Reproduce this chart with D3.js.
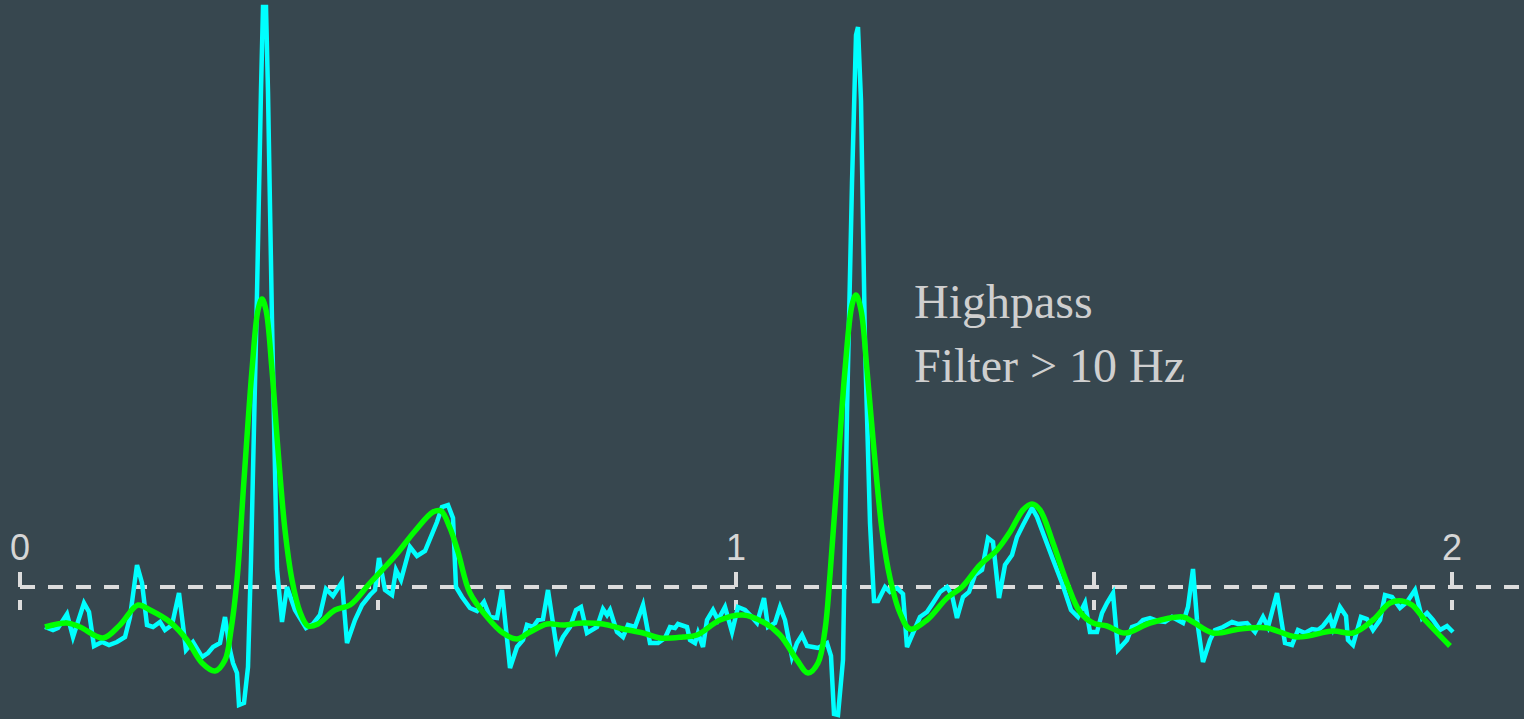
<!DOCTYPE html>
<html>
<head>
<meta charset="utf-8">
<script src="https://cdn.jsdelivr.net/npm/d3@7"></script>
<style>
  html, body { margin: 0; padding: 0; background: #37474f; overflow: hidden; }
  svg { display: block; }
</style>
</head>
<body>
<div id="chart"></div>
<script>
const FS = 358 // samples per second

// raw ECG trace (sample index, amplitude)
let rawSample = [12.5, 16.5, 19, 23.5, 26.5, 32, 34.5, 37, 41, 44.5, 48.5, 52.5, 55, 58.5, 61, 63.5, 66.5, 70, 72.5, 76,
  79.5, 83, 86.5, 91, 94, 96.5, 100, 102.5, 105, 106.5, 108.5, 109.5, 112, 114, 115.5, 118.5, 120.5, 121.5, 123, 124,
  126, 128.5, 131, 133.5, 137.5, 143, 146.5, 150, 153, 156.5, 161, 163.5, 167.5, 171, 175, 177.5, 179.5, 182.5, 186, 188,
  190.5, 195, 198.5, 202.5, 208.5, 211, 214, 216.5, 218, 221, 225, 228.5, 232, 235, 238.5, 241, 245, 248.5, 251.5, 253.5,
  256.5, 259, 261.5, 264, 268.5, 271.5, 275, 278, 280.5, 283.5, 288.5, 291.5, 293.5, 295, 298.5, 301.5, 304, 307.5, 311.5, 315,
  319, 322.5, 325, 327.5, 329, 333.5, 335, 337.5, 339, 341.5, 343.5, 346.5, 349, 352.5, 356, 359, 362.5, 365,
  368.5, 372, 374, 377.5, 380, 382.5, 386, 388.5, 391, 393.5, 396.5, 399, 403.5, 405.5, 407, 409, 411.5, 413.5,
  416, 418, 419, 420.5, 422.5, 425, 427, 429, 432.5, 435, 438.5, 441.5, 443.5, 446.5, 450, 453.5, 456.5, 460,
  463.5, 466, 468.5, 471.5, 474.5, 477.5, 481, 484, 486.5, 489.5, 492.5, 496, 498.5, 501.5, 506, 508.5, 511.5, 516,
  521, 525.5, 529, 532.5, 535, 538.5, 541, 543.5, 546.5, 549, 553.5, 556, 559, 561.5, 565, 569, 572.5, 576,
  581.5, 584, 586.5, 588.5, 591.5, 595, 597.5, 601.5, 606, 609, 613.5, 617.5, 621.5, 624, 628.5, 632.5, 636, 639,
  642.5, 646, 649, 651.5, 655, 656.5, 660, 663, 664, 666.5, 670.5, 673.5, 676.5, 680, 682.5, 686, 690, 693.5,
  697.5, 701, 703.5, 706.5, 710, 713.5, 716.5]
let rawValue = [-0.40, -0.43, -0.41, -0.27, -0.50, -0.16, -0.25, -0.59, -0.55, -0.58, -0.55, -0.50, -0.30, 0.22, 0.04, -0.38, -0.40, -0.35, -0.43, -0.38,
  -0.06, -0.63, -0.55, -0.70, -0.66, -0.60, -0.56, -0.30, -0.63, -0.76, -0.86, -1.18, -1.16, -0.80, 0.27, 2.93, 4.97, 5.80, 5.80, 4.95,
  2.66, 0.18, -0.35, 0.00, -0.23, -0.41, -0.37, -0.28, -0.02, -0.09, 0.05, -0.56, -0.33, -0.18, -0.08, -0.03, 0.29, -0.03, -0.08, 0.17,
  0.07, 0.40, 0.31, 0.36, 0.65, 0.80, 0.82, 0.69, 0.00, -0.10, -0.21, -0.24, -0.15, -0.30, -0.31, -0.03, -0.81, -0.60, -0.53, -0.38,
  -0.40, -0.33, -0.32, -0.03, -0.63, -0.50, -0.40, -0.23, -0.20, -0.46, -0.40, -0.22, -0.28, -0.23, -0.45, -0.50, -0.38, -0.40, -0.18, -0.56,
  -0.56, -0.51, -0.40, -0.41, -0.37, -0.40, -0.53, -0.56, -0.46, -0.60, -0.33, -0.23, -0.33, -0.20, -0.45, -0.20, -0.23, -0.28,
  -0.36, -0.11, -0.40, -0.36, -0.20, -0.33, -0.70, -0.56, -0.48, -0.59, -0.60, -0.61, -0.56, -0.69, -1.27, -1.28, -0.73, 1.74,
  4.04, 5.52, 5.60, 4.86, 2.43, 0.64, -0.14, -0.14, 0.00, -0.05, -0.01, -0.07, -0.60, -0.46, -0.30, -0.25, -0.16, -0.05,
  0.00, -0.08, -0.31, -0.10, -0.05, 0.12, 0.17, 0.49, 0.45, -0.11, 0.22, 0.32, 0.50, 0.62, 0.79, 0.70, 0.54, 0.30,
  0.04, -0.23, -0.30, -0.16, -0.45, -0.45, -0.26, -0.16, -0.06, -0.63, -0.53, -0.40, -0.38, -0.33, -0.31, -0.34, -0.35, -0.30,
  -0.36, -0.20, 0.18, -0.33, -0.75, -0.53, -0.43, -0.40, -0.35, -0.37, -0.36, -0.45, -0.30, -0.40, -0.06, -0.56, -0.58, -0.43,
  -0.46, -0.42, -0.43, -0.39, -0.30, -0.41, -0.20, -0.29, -0.53, -0.58, -0.30, -0.32, -0.43, -0.33, -0.08, -0.10, -0.21, -0.15,
  -0.03, -0.31, -0.26, -0.33, -0.43, -0.39, -0.45]

// filtered trace (sample index, amplitude)
let filtSample = [12.5, 23.5, 30, 41.5, 50, 59, 65, 75, 83.5, 91, 97.5, 102.5, 105.5, 108.5, 112, 116, 119, 121, 123, 126,
  129, 132.5, 136, 140, 144, 149, 157.5, 165, 175, 187.5, 197.5, 206.5, 210.5, 215, 219, 225, 233.5, 241.5, 248.5, 255,
  263.5, 271.5, 281.5, 291.5, 301.5, 311.5, 320, 331.5, 338.5, 350, 361.5, 371.5, 380, 388.5, 394, 399, 402.5, 405, 408.5, 412.5,
  416, 418, 420.5, 423.5, 427, 431, 435, 440, 445, 453.5, 463.5, 471, 480, 488.5, 495, 501.5, 506, 510, 516.5, 523.5,
  530, 536.5, 543.5, 552.5, 565, 581.5, 586.5, 596.5, 610, 623.5, 638.5, 656.5, 666.5, 676.5, 685, 691, 696, 702.5, 715]
let filtValue = [-0.40, -0.36, -0.40, -0.51, -0.38, -0.18, -0.23, -0.35, -0.53, -0.76, -0.84, -0.73, -0.43, 0.07, 1.07, 2.17, 2.77, 2.88, 2.77, 2.17,
  1.37, 0.57, 0.07, -0.25, -0.39, -0.37, -0.23, -0.18, 0.04, 0.31, 0.56, 0.75, 0.76, 0.59, 0.35, -0.06, -0.30, -0.46, -0.52, -0.45,
  -0.37, -0.38, -0.36, -0.37, -0.42, -0.46, -0.51, -0.50, -0.48, -0.33, -0.28, -0.35, -0.48, -0.73, -0.86, -0.76, -0.43, 0.12, 1.07, 2.17,
  2.82, 2.92, 2.77, 2.17, 1.37, 0.57, 0.09, -0.26, -0.42, -0.33, -0.11, 0.00, 0.22, 0.37, 0.55, 0.77, 0.83, 0.77, 0.44, 0.04,
  -0.25, -0.36, -0.39, -0.46, -0.36, -0.30, -0.35, -0.46, -0.42, -0.41, -0.50, -0.44, -0.46, -0.33, -0.16, -0.14, -0.18, -0.33, -0.59]

let tickTimes = [0, 0.5, 1, 1.5, 2]
let tickLabels = ['0', '', '1', '', '2']
let noteLines = ['Highpass', 'Filter > 10 Hz']

let width = 1524, height = 719

let svg = d3.select('#chart')
  .append('svg')
  .attr('width', width)
  .attr('height', height)

let x = d3.scaleLinear().domain([0, 2]).range([20, 1452])
let y = d3.scaleLinear().domain([-1.32, 5.87]).range([719, 0])

let raw = rawSample.map((s, i) => ({ t: s / FS, v: rawValue[i] }))
let filt = filtSample.map((s, i) => ({ t: s / FS, v: filtValue[i] }))

// time axis, dashed
let axisG = svg.append('g').attr('transform', `translate(0, ${y(0)})`)
axisG.append('line')
  .attr('x1', x(0))
  .attr('x2', width)
  .attr('stroke', '#dcdcdc')
  .attr('stroke-width', 4)
  .attr('stroke-dasharray', '15 13')

let ticks = axisG.selectAll('.tick')
  .data(tickTimes)
  .enter()
  .append('g')
  .attr('class', 'tick')
  .attr('transform', d => `translate(${x(d)}, 0)`)

ticks.append('line')
  .attr('y1', -15)
  .attr('y2', 23)
  .attr('stroke', '#dcdcdc')
  .attr('stroke-width', 4)
  .attr('stroke-dasharray', '15 13')

ticks.append('text')
  .attr('y', -27)
  .attr('text-anchor', 'middle')
  .attr('fill', '#d6d6d6')
  .style('font-family', '"Liberation Sans", Arial, sans-serif')
  .style('font-size', '36px')
  .text((d, i) => tickLabels[i])

let rawLine = d3.line()
  .x(d => x(d.t))
  .y(d => y(d.v))

let filtLine = d3.line()
  .curve(d3.curveCatmullRom.alpha(0.5))
  .x(d => x(d.t))
  .y(d => y(d.v))

svg.append('path')
  .datum(raw)
  .attr('d', rawLine)
  .attr('fill', 'none')
  .attr('stroke', '#00ffff')
  .attr('stroke-width', 4.5)

svg.append('path')
  .datum(filt)
  .attr('d', filtLine)
  .attr('fill', 'none')
  .attr('stroke', '#00ff00')
  .attr('stroke-width', 5.5)

svg.append('g')
  .selectAll('text')
  .data(noteLines)
  .enter()
  .append('text')
  .attr('x', 914)
  .attr('y', (d, i) => 318 + i * 64)
  .attr('fill', '#cfcfcf')
  .style('font-family', '"Liberation Serif", "Times New Roman", serif')
  .style('font-size', '48px')
  .text(d => d)
</script>
</body>
</html>
